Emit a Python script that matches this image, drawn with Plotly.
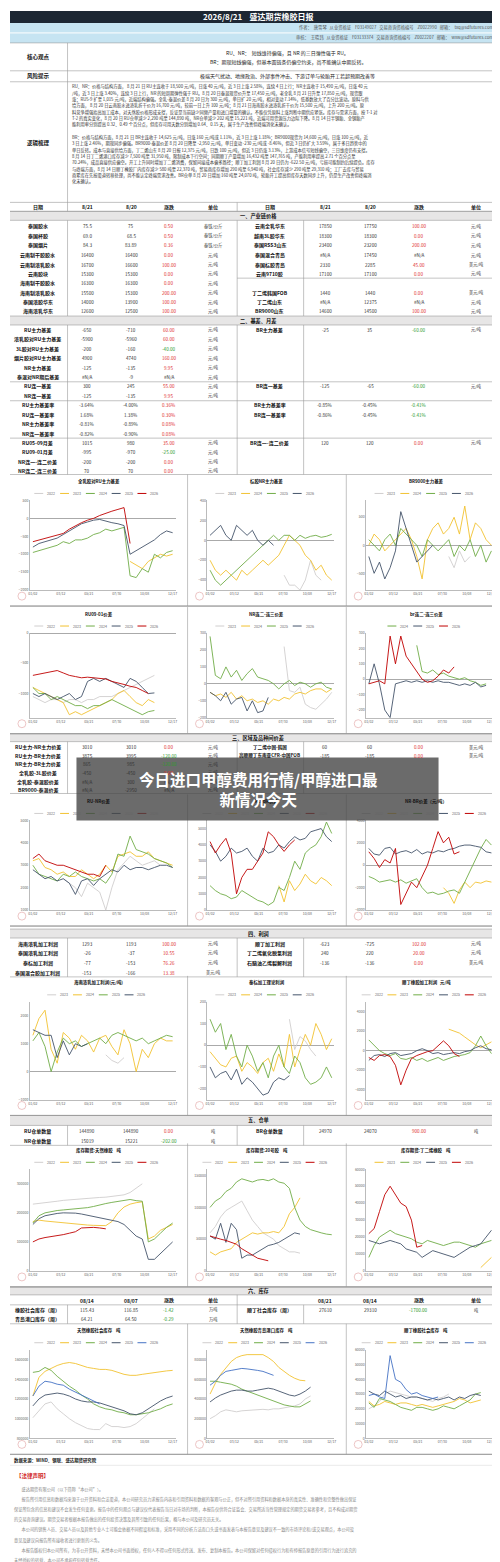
import plotly.graph_objects as go

W, H = 500, 1562
FONT = "Noto Sans CJK SC"

# ---------------- data ----------------
N = 24
def pad(a, n=N):
    return list(a) + [None] * (n - len(a))

C_2022, C_2023, C_2024, C_2025, C_2026, C_BLUE = "#d0cece", "#f2c230", "#70ad47", "#44546a", "#c00000", "#4472c4"

header_left = ["日期", "8/21", "8/20", "涨跌", "单位"]
header_right = ["日期", "8/21", "8/20", "涨跌", "单位"]

sec1_left = [
    ("泰国胶水", "75.5", "75", "0.50", "泰铢/公斤"),
    ("泰国杯胶", "69.0", "68.5", "0.50", "泰铢/公斤"),
    ("泰国烟片", "84.3", "83.89", "0.36", "泰铢/公斤"),
    ("云南制干胶胶水", "16400", "16400", "0.00", "元/吨"),
    ("云南制浓乳胶水", "16700", "16600", "100.00", "元/吨"),
    ("云南胶块", "15300", "15300", "0.00", "元/吨"),
    ("海南制干胶胶水", "16300", "16300", "0.00", "元/吨"),
    ("海南制浓乳胶水", "15500", "15300", "200.00", "元/吨"),
    ("泰国浓胶华东", "14000", "13900", "100.00", "元/吨"),
    ("海南浓乳华东", "12600", "12500", "100.00", "元/吨"),
]
sec1_right = [
    ("云南全乳华东", "17850", "17750", "100.00", "元/吨"),
    ("越南3L胶华东", "18300", "18300", "0.00", "元/吨"),
    ("泰国RSS3山东", "23400", "23200", "200.00", "元/吨"),
    ("泰国混合青岛", "#N/A", "17450", "#N/A", "元/吨"),
    ("泰国标胶青岛", "2330", "2285", "45.00", "美元/吨"),
    ("云南9710胶", "17100", "17100", "0.00", "元/吨"),
    None,
    ("丁二烯韩国FOB", "1440", "1440", "0.00", "美元/吨"),
    ("丁二烯山东", "#N/A", "12375", "#N/A", "元/吨"),
    ("BR9000山东", "14600", "14500", "100.00", "元/吨"),
]
sec2_left = [
    ("RU主力基差", "-650", "-710", "60.00", "元/吨"),
    ("浓乳胶对RU主力基差", "-5900", "-5960", "60.00", "元/吨"),
    ("3L胶对RU主力基差", "-200", "-160", "-40.00", "元/吨"),
    ("烟片胶对RU主力基差", "4900", "4740", "160.00", "元/吨"),
    ("NR主力基差", "-125", "-135", "9.95", "元/吨"),
    ("泰混对NR期后基差", "#N/A", "-9", "#N/A", "元/吨"),
    ("RU连一基差", "300", "245", "55.00", "元/吨"),
    ("NR连一基差", "-125", "-135", "9.95", "元/吨"),
    ("RU主力基差率", "-3.64%", "-4.00%", "0.36%", ""),
    ("RU连一基差率", "1.68%", "1.38%", "0.30%", ""),
    ("NR主力基差率", "-0.81%", "-0.89%", "0.08%", ""),
    ("NR连一基差率", "-0.82%", "-0.90%", "0.08%", ""),
    ("RU05-09月差", "1015", "980", "35.00", "元/吨"),
    ("RU09-01月差", "-995", "-970", "-25.00", "元/吨"),
    ("NR连一-连二价差", "-200", "-200", "0.00", "元/吨"),
    ("NR连二-连三价差", "70", "70", "0.00", "元/吨"),
]
sec2_right = {
    0: ("BR主力基差", "-25", "35", "-60.00", "元/吨"),
    6: ("BR连一基差", "-125", "-65", "-60.00", "元/吨"),
    8: ("BR主力基差率", "-0.85%", "-0.45%", "-0.41%", ""),
    9: ("BR连一基差率", "-0.86%", "-0.45%", "-0.41%", ""),
    12: ("BR连一-连二价差", "120", "120", "0.00", "元/吨"),
}
sec3_left = [
    ("RU主力-NR主力价差", "3010", "3010", "0.00", "元/吨"),
    ("RU主力-BR主力价差", "3875", "3995", "-120.00", "元/吨"),
    ("NR主力-BR主力价差", "865", "985", "-120.00", "元/吨"),
    ("全乳胶-3L胶价差", "-450", "-450", "0.00", "元/吨"),
    ("全乳胶-泰混胶价差", "#N/A", "300", "#N/A", "元/吨"),
    ("BR9000-泰混价差", "#N/A", "-2950", "#N/A", "元/吨"),
]
sec3_right = [
    ("丁二烯中国-韩国", "60", "60", "0.00", "美元/吨"),
    ("高顺顺丁东南亚CFR-中国FOB", "-185", "-185", "0.00", "美元/吨"),
]
sec4_left = [
    ("海南浓乳加工利润", "1293", "1193", "100.00", "元/吨"),
    ("泰国浓乳加工利润", "-26", "-37", "10.55", "元/吨"),
    ("泰标加工利润", "-77", "-153", "76.26", "元/吨"),
    ("泰国混合胶加工利润", "-153", "-166", "13.38", "美元/吨"),
]
sec4_right = [
    ("顺丁加工利润", "-623", "-725", "102.00", "元/吨"),
    ("丁二烯氧化脱氢利润", "240", "220", "20.00", "元/吨"),
    ("石脑油乙烯裂解利润", "-136", "-136", "0.00", "美元/吨"),
]
sec5_left = [
    ("RU仓单数量", "144890", "144890", "0.00", "吨"),
    ("NR仓单数量", "15019", "15221", "-202.00", "吨"),
]
sec5_right = [("BR仓单数量", "24970", "24070", "900.00", "吨")]
sec6_head_left = ["", "08/14", "08/07", "涨跌", "单位"]
sec6_head_right = ["", "08/21", "08/14", "涨跌", "单位"]
sec6_left = [
    ("橡胶社会库存（周）", "115.43", "116.85", "-1.42", "万吨"),
    ("青岛港口库存（周）", "64.21", "64.50", "-0.29", "万吨"),
]
sec6_right = [("顺丁社会库存（周）", "27610", "29310", "-1700.00", "吨")]

# chart series
c1_2026 = pad([-650, -600, -560, -520, -450, -420, -300, -200, -120, -50, 0, 80, 150, 200, 250, 300, -700])
c1_2025 = [-800, -700, -650, -600, -550, -450, -350, -250, -150, -100, -50, -30, -80, -120, -150, -200, -1000, -900, -800, -700, -600, -450, -350, -400]
c1_2024 = [-950, -900, -850, -800, -750, -650, -700, -600, -600, -550, -450, -400, -300, -350, -300, -250, -1600, -1650, -1400, -1500, -1000, -1100, -950, -900]
c1_2023 = [None] * 16 + [-1200, -1300, -1400, -1200, -1100, -1000, -1050, -1000]

c2_2026 = pad([50, 100, 150, 50, 0, 150, 100, 50, 100, 0, -50, 0, -50])
c2_2025 = [-300, -400, -450, -400, -350, -300, -250, -200, -150, -100, -50, 0, 50, 0, 50, 50, 0, 50, 20, 40, 50, 30, 40, 60]
c2_2024 = [-200, -300, -350, -300, -350, -400, -300, -350, -300, -250, -200, -250, -200, -150, -50, 50, 0, -50, -150, -200, -300, -250, -350, -400]
c2_2023 = pad([None] * 14 + [-350, -450, -450, -500, -400, -200, -350, -400])

c3_2026 = pad([-200, -500, -300, -600, -400, -100, 600, 300, 0, -300, -200, -100, 0])
c3_2025 = [100, 0, -100, 100, 200, 0, 300, 200, 100, 0, -200, 100, 0, -100, 0, 100, -200, 0, -100, 100, -200, 0, -300, -100]
c3_2024 = [0, 200, 100, -100, 0, 100, 200, 300, 100, -200, -600, 100, 300, 400, 200, 300, 500, 200, 700, 100, 400, 300, 100, 0]
c3_2023 = pad([None] * 15 + [-200, -400, -100, -300, -200])

c4_2026 = pad([-700, -680, -650, -640, -620, -660, -700, -720, -740, -730, -740, -750, -760, -800, -820, -850, -880, -900, -950, -1000])
c4_2025 = pad([-1000, -1050, -1000, -1050, -1100, -1050, -1000, -1100, -1050, -800, -750, -800, -750, -800, -850, -900, -750, -800, -900, -1000, -990])
c4_2024 = pad([-900, -1000, -1000, -1100, -1050, -1100, -1150, -1200, -1200, -1250, -1200, -1200, -1150, -1100, -1150, -1200, -1250, -1300, -1350, -1300, -1280])
c4_2023 = pad([-900, -950, -1000, -1050, -1100, -1150, -1350, -1300, -1350, -1300, -1250, -1200, -1150, -1100, -1000, -950, -1050, -1150, -1200, -1100, -1150])
c4_2022 = pad([-1050, -1100, -1150, -1100, -1100, -1150, -1100, -1100, -1150, -1100, -1100, -1050, -1050, -1050, -1000, -950, -900, -850, -800, -750, -700])

c5_2026 = pad([-50, -70, -100, -50, -120, -90, -80, -160, -100, -170, -160, -80])
c5_2025 = [280, 50, 30, 100, 40, 80, 20, 60, 90, 40, 30, 20, 0, -30, 0, 20, -10, 10, 0, -20, 0, 10, -20, -30]
c5_2024 = [-50, -70, -60, -80, -50, -90, -70, -100, -90, -110, -100, -120, -90, -100, -80, -90, -60, -50, -60, -40, -30, -30, -50, -30]
c5_2023 = [None] * 14 + [220, -40, -50, -20, -120, -140, -150, -120, -90, -50]

c6_2026 = pad([-30, -20, -10, -30, 280, 100, 280, 150, 100, 50, 0, -20, -10, 20, 60, 40, 80])
c6_2025 = pad([-30, 100, -30, -200, -250, -30, -20, -10, -20, -10, -20, -10, -20, -10, -20, -20, -30, -40, -30, -40, -20, -50, -40])
c6_2024 = pad([None] * 9 + [220, 50, 40, 60, 30, 40, 20, 10, 0, 10, -10, -20, -40, -30])

c7_2026 = pad([3300, 3500, 3200, 3100, 3000, 3000, 2900, 2800, 2700, 2600, 2600, 2500, 3000])
c7_2025 = [2800, 2600, 2400, 2500, 2300, 2400, 2200, 1700, 2300, 2400, 2100, 2400, 2600, 2800, 2700, 3000, 2800, 2900, 2900, 2800, 2900, 3000, 3000, 2900]
c7_2024 = [3000, 2600, 2500, 2400, 2300, 2600, 2500, 2700, 2500, 2400, 2300, 2400, 2200, 2600, 3500, 3400, 4300, 3700, 3600, 3500, 3300, 3200, 3100, 2900]
c7_2023 = [3200, 3300, 2900, 2800, 2600, 2700, 2500, 2500, 2800, 2600, 2400, 2600, 3000, 2700, 3400, 3500, 3600, 3400, 3400, 3600, 3300, 3200, 3100, 3000]
c7_2022 = pad([None] * 5 + [2400, 2200, 2000, 1600, 2200, 2000, 1800, 1000, 2000, 2800, 3100, 3400, 3200, 3000, 3100, 3200, 3000])

c8_2026 = pad([4200, 3500, 4000, 4400, 3500, 1000, 2000, 2500, 2500, 3000, 3500, 4800, 4500, 4000, 3600, 4000, 4300])
c8_2025 = [4000, 3600, 3000, 3300, 3800, 3500, 3600, 3800, 3300, 3000, 3800, 3500, 3600, 4000, 3800, 4200, 4500, 4300, 4400, 4800, 4900, 5000, 4500, 4200]
c8_2024 = [1500, 1200, 1000, 900, 700, 800, 1200, 1000, 800, 600, 500, 300, 500, 1400, 1200, 2000, 3000, 2500, 3500, 3800, 4000, 4500, 5400, 4700]
c8_2023 = [None] * 13 + [1500, 500, 1800, 1200, 1600, 2200, 1800, 1600, 2000, 1800, 1500]

c9_2026 = pad([1200, 600, -200, 500, 200, 1500, -3500, -2500, -1500, -2000, -1000, 0, 1500, 3000, 2000, 2500, 1000, 1200])
c9_2025 = [1500, 1000, 900, 1500, 1600, 1000, 1200, 1300, 1100, 1400, 1000, 1200, 1100, 1300, 1200, 1400, 1500, 1700, 1800, 1800, 1700, 1600, 1200, 1100]
c9_2024 = [-1000, -1200, -1500, -1400, -1300, -1500, -1300, -1600, -1400, -1200, -2000, -2500, -2400, -2600, -2500, -2300, -2200, -2500, -1500, -500, 500, 1500, 2300, 1800]
c9_2023 = [None] * 14 + [-2000, -2500, -3400, -2200, -1500, -2000, -1500, -1600, -1400, -1500]

c10_2026 = pad([1500, 1400, 1300, 1300, 500, 1100, 600, 1000, 900, 1000])
c10_2025 = [1100, 1400, 900, 0, 700, 1200, 1000, 1100, 900, 1000, 1100, 1200, 1000, 1300, 1400, 1300, 1200, 1100, 1200, 1000, 1100, 1200, 1300, 1250]
c10_2024 = [1300, 1900, 2200, 800, 300, 1400, 1200, 800, 1300, 1100, 700, 1200, 1300, 900, 600, 1500, 1000, 0, 800, 500, 1000, 1200, 1100, 1100]
c10_2023 = pad([None] * 12 + [600, 400, 300, 500])

c11_2026 = pad([-100, -150, -130, -120, -160, -110, -180, -150, -170, -200, -230, -220, -170, -150, -160, -140])
c11_2025 = [120, 60, 100, -20, 50, -50, -100, 0, -50, -120, -80, -150, -50, 0, -100, -130, -50, -80, -150, -180, -170, -150, -100, -150]
c11_2024 = [-30, -60, -90, -100, -60, -50, -120, -80, -100, -130, -80, -60, -120, -40, -100, 50, -100, -20, 50, 0, 100, 50, -20, 30]
c11_2023 = pad([None] * 15 + [120, -20, 40, 20, -20, -50])

c12_2026 = pad([-700, -1000, -500, -400, -600, -1500, -3500, -2000, -800, -500, -300, -100, 0, 500, 1000, 500, -300, -600])
c12_2025 = [-1000, -500, -400, -600, -300, -200, -500, -400, -300, 0, 200, 0, -300, -200, -400, -300, -200, -300, -100, 0, 300, 500, 200, 100]
c12_2024 = [1100, 500, 0, -300, -500, -300, -800, -900, -700, -1000, -800, -1100, -900, -700, -1000, -800, -600, -500, -400, -200, 500, 1500, 500, -300]
c12_2023 = [None] * 15 + [2200, 2000, 1800, 1400, 1000, 600, 300, 600, 900]

c13_2022 = pad([230000, 232000, 235000, 238000, 240000, 243000, 245000, 247000, 249000, 250000, 252000, 253000, 254000, 256000, 258000, 262000, 270000, 285000, 300000])
c13_2023 = [170000, 175000, 172000, 170000, 168000, 165000, 163000, 160000, 158000, 158000, 157000, 157000, 156000, 170000, 200000, 220000, 230000, 235000, 238000, 110000, 120000, 140000, 150000, 160000]
c13_2024 = [165000, 190000, 200000, 205000, 208000, 210000, 212000, 214000, 215000, 218000, 222000, 228000, 232000, 236000, 240000, 244000, 246000, 242000, 240000, 100000, 110000, 130000, 150000, 165000]
c13_2025 = [160000, 180000, 190000, 195000, 198000, 200000, 200000, 199000, 196000, 192000, 188000, 184000, 180000, 176000, 170000, 160000, 140000, 120000, 110000, 40000, 40000, 60000, 80000, 100000]
c13_2026 = pad([100000, 110000, 115000, 118000, 120000, 125000, 130000, 135000, 148000, 150000, 150000, 148000, 145000])

c14_2022 = pad([60000, 70000, 85000, 95000, 100000, 105000, 110000, 95000, 80000, 70000, 60000, 55000, 50000, 40000, 35000, 30000, 30000, 28000])
c14_2023 = pad([30000, 25000, 30000, 32000, 35000, 45000, 50000, 55000, 60000, 58000, 60000, 60000, 62000, 60000, 70000, 90000, 100000, 115000])
c14_2024 = [100000, 110000, 115000, 125000, 130000, 140000, 145000, 142000, 140000, 143000, 144000, 142000, 145000, 140000, 138000, 130000, 100000, 80000, 70000, 65000, 62000, 60000, 58000, 57000]
c14_2025 = pad([55000, 50000, 75000, 45000, 75000, 65000, 20000, 25000, 25000, 30000, 35000, 40000, 42000, 45000, 50000, 55000, 60000, 58000])
c14_2026 = pad([55000, 52000, 50000, 48000, 45000, 42000, 35000, 30000, 25000, 20000, 18000, 16000])

c15_2026 = pad([22000, 25000, 35000, 45000, 50000, 45000, 40000, 38000, 30000, 14000, 15000])
c15_2024 = [8000, 15000, 20000, 22000, 24000, 22000, 21000, 20000, 19000, 17000, 16000, 18000, 17000, 16000, 15000, 16000, 17000, 17000, 16000, 15000, 14000, 16000, 17000, 18000]
c15_2025 = [18000, 17000, 16000, 17000, 18000, 17000, 16000, 13000, 12000, 11000, 8000, 10000, 12000, 11000, 10000, 9000, 8000, 10000, 12000, 14000, 15000, 16000, 20000, 24000]
c15_2023 = [None] * 21 + [2000, 5000, 8000]

c16_2022 = pad([1010000, 1080000, 1150000, 1170000, 1100000, 1050000, 1000000, 960000, 930000, 900000, 890000, 890000, 950000, 920000, 920000, 910000, 920000, 950000, 1000000, 1050000, 1100000])
c16_2023 = [1230000, 1420000, 1480000, 1510000, 1540000, 1560000, 1570000, 1560000, 1540000, 1520000, 1510000, 1500000, 1500000, 1490000, 1470000, 1450000, 1440000, 1440000, 1450000, 1460000, 1470000, 1480000, 1485000, 1490000]
c16_2024 = [1470000, 1480000, 1520000, 1490000, 1430000, 1380000, 1330000, 1290000, 1240000, 1200000, 1150000, 1120000, 1100000, 1090000, 1070000, 1060000, 1040000, 1040000, 1050000, 1060000, 1080000, 1100000, 1130000, 1150000]
c16_2025 = [1130000, 1200000, 1240000, 1250000, 1260000, 1250000, 1230000, 1200000, 1180000, 1170000, 1170000, 1160000, 1140000, 1120000, 1100000, 1080000, 1050000, 1040000, 1060000, 1100000, 1140000, 1180000, 1210000, 1230000]
c16_2026 = pad([1230000, 1330000, 1380000, 1370000, 1350000, 1340000, 1300000, 1270000, 1240000, 1210000, 1180000, 1150000])

c17_2022 = pad([200000, 230000, 270000, 290000, 280000, 270000, 280000, 285000, 290000, 290000, 295000, 290000, 300000, 300000, 310000, 320000, 330000, 350000, 400000, 430000])
c17_2023 = pad([450000, 560000, 650000, 720000, 780000, 820000, 840000, 850000, 850000, 845000, 850000, 820000, 780000, 720000, 680000, 640000, 610000, 590000, 585000])
c17_2024 = pad([580000, 580000, 570000, 560000, 550000, 530000, 500000, 480000, 460000, 440000, 420000, 400000, 380000, 360000, 340000, 330000, 320000, 320000, 350000, 380000])
c17_2025 = pad([370000, 410000, 440000, 460000, 480000, 490000, 490000, 480000, 480000, 490000, 500000, 510000, 500000, 480000, 460000, 440000, 430000, 450000, 480000, 520000])
c17_2026 = pad([540000, 580000, 640000, 680000, 690000, 700000, 710000, 705000, 700000, 690000, 680000, 660000, 640000])

c18_2022 = pad([20000, 22000, 25000, 30000, 32000, 31000, 30000, 29000, 28000, 28000, 27000, 26000, 25000, 27000, 28000, 30000])
c18_2023 = pad([25000, 22000, 23000, 25000, 24000, 23000, 24000, 24000, 23000, 22000, 23000, 22000, 21000, 22000, 23000, 24000, 25000, 27000, 26000, 24000, 25000, 26000])
c18_2024 = pad([24000, 21000, 27000, 26000, 25000, 23000, 21000, 20000, 19000, 21000, 21000, 20000, 19000, 20000, 22000, 21000, 20000, 22000, 24000, 26000, 30000, 31000])
c18_2025 = pad([32000, 30000, 29000, 32000, 30000, 28000, 29000, 27000, 28000, 28000, 27000, 26000, 27000, 26000, 27000, 28000, 26000, 28000, 27000, 29000, 30000, 29000])
c18_2026 = pad([29000, 30000, 28000, 27000, 56000, 40000, 38000, 33000, 30000, 31000, 29000, 28000, 27000, 28000])

date_ticks = ["01/02", "03/12", "05/21", "07/30", "10/08", "12/17"]

charts = [
    ("全乳胶对RU主力基差", [-2000, 500], [("2022", C_2022, None), ("2023", C_2023, c1_2023), ("2024", C_2024, c1_2024), ("2025", C_2025, c1_2025), ("2026", C_2026, c1_2026)]),
    ("标胶NR主力基差", [-500, 400], [("2023", C_2022, c2_2023), ("2024", C_2023, c2_2024), ("2025", C_2024, c2_2025), ("2026", C_2025, c2_2026)]),
    ("BR9000主力基差", [-800, 800], [("2023", C_2022, c3_2023), ("2024", C_2023, c3_2024), ("2025", C_2024, c3_2025), ("2026", C_2025, c3_2026)]),
    ("RU09-01价差", [-1400, 0], [("2022", C_2022, c4_2022), ("2023", C_2023, c4_2023), ("2024", C_2024, c4_2024), ("2025", C_2025, c4_2025), ("2026", C_2026, c4_2026)]),
    ("NR连二-连三价差", [-200, 300], [("2023", C_2022, c5_2023), ("2024", C_2023, c5_2024), ("2025", C_2024, c5_2025), ("2026", C_2025, c5_2026)]),
    ("br连二-连三价差", [-250, 300], [("2024", C_2024, c6_2024), ("2025", C_2025, c6_2025), ("2026", C_2026, c6_2026)]),
    ("RU-NR价差", [1000, 5000], [("2022", C_2022, c7_2022), ("2023", C_2023, c7_2023), ("2024", C_2024, c7_2024), ("2025", C_2025, c7_2025), ("2026", C_2026, c7_2026)]),
    ("RU-BR价差", [0, 5500], [("2022", C_2022, None), ("2023", C_2023, c8_2023), ("2024", C_2024, c8_2024), ("2025", C_2025, c8_2025), ("2026", C_2026, c8_2026)]),
    ("NR-BR价差（元/吨）", [-4000, 4000], [("2022", C_2022, None), ("2023", C_2023, c9_2023), ("2024", C_2024, c9_2024), ("2025", C_2025, c9_2025), ("2026", C_2026, c9_2026)]),
    ("海南浓乳加工利润(元/吨)", [-1000, 2500], [("2023", C_2022, c10_2023), ("2024", C_2023, c10_2024), ("2025", C_2024, c10_2025), ("2026", C_2025, c10_2026)]),
    ("泰标加工理论利润", [-250, 200], [("2023", C_2022, c11_2023), ("2024", C_2023, c11_2024), ("2025", C_2024, c11_2025), ("2026", C_2025, c11_2026)]),
    ("顺丁橡胶加工利润   元/吨", [-5000, 5000], [("2022", C_2022, None), ("2023", C_2023, c12_2023), ("2024", C_2024, c12_2024), ("2025", C_2025, c12_2025), ("2026", C_2026, c12_2026)]),
    ("库存期货:天然橡胶    吨", [0, 350000], [("2022", C_2022, c13_2022), ("2023", C_2023, c13_2023), ("2024", C_2024, c13_2024), ("2025", C_2025, c13_2025), ("2026", C_2026, c13_2026)]),
    ("库存期货:20号胶    吨", [0, 160000], [("2022", C_2022, c14_2022), ("2023", C_2023, c14_2023), ("2024", C_2024, c14_2024), ("2025", C_2025, c14_2025), ("2026", C_2026, c14_2026)]),
    ("库存期货:丁二烯橡胶    吨", [0, 60000], [("2023", C_2023, c15_2023), ("2024", C_2024, c15_2024), ("2025", C_2025, c15_2025), ("2026", C_2026, c15_2026)]),
    ("天然橡胶社会库存    吨", [800000, 1700000], [("2022", C_2022, c16_2022), ("2023", C_2023, c16_2023), ("2024", C_2024, c16_2024), ("2025", C_2025, c16_2025), ("2026", C_BLUE, c16_2026)]),
    ("天然橡胶青岛港口库存    吨", [0, 900000], [("2022", C_2022, c17_2022), ("2023", C_2023, c17_2023), ("2024", C_2024, c17_2024), ("2025", C_2025, c17_2025), ("2026", C_BLUE, c17_2026)]),
    ("顺丁橡胶社会库存    吨", [0, 60000], [("2022", C_2022, c18_2022), ("2023", C_2023, c18_2023), ("2024", C_2024, c18_2024), ("2025", C_2025, c18_2025), ("2026", C_BLUE, c18_2026)]),
]
chart_rows = [(465, 597), (598, 725), (786, 918), (968, 1108), (1136, 1280), (1317, 1448)]
chart_cols = [(0, 179), (179, 339), (339, 500)]

logic_ru = [
    "RU、NR：价格与结构方面， 8 月 21 日 RU主连收于 18,500 元/吨，日涨 40 元/吨，近 3 日上涨 2.58%，连续 4 日上行；NR主连收于 15,490 元/吨，日涨 40 元",
    "/吨，近 3 日上涨 3.40%，连续 3 日上行，NR 的短周期弹性强于 RU。8 月 20 日泰混现货价升至 17,450 元/吨，老全乳 8 月 21 日升至 17,850 元/吨，现货跟",
    "涨；RU5-9 扩至 1,015 元/吨，近端结构偏强。全乳-泰混价差 8 月 20 日为 300 元/吨，单日扩 20 元/吨，相对变动 7.14%，低基数放大了百分比波动。原料与供",
    "给方面， 8 月 20 日云南胶水进浓乳折干价为 16,700 元/吨，较前一日上升 100 元/吨；8 月 21 日海南胶水进浓乳折干价为 15,500 元/吨，上升 200 元/吨。原",
    "料竞争增强抬高加工成本，对天然胶价格形成支撑，反证是当前缺少同频产量和进口增量的确认。不能仅凭原料上涨判断中期供应紧张。库存与需求方面，按 T-1 对",
    "T-2 的真实变化，8 月 20 日 RU仓单减少 2,290 吨至 144,890 吨，NR仓单减少 202 吨至 15,221 吨，近端可用货源压力边际下降。8 月 14 日半钢胎、全钢胎产",
    "能利用率分别提高 0.32、0.49 个百分点，但库存可用天数分别增加 0.64、0.15 天，属于生产改善但终端消化未确认。",
]
logic_br = [
    "BR：价格与结构方面，8 月 21 日 BR主连收于 14,625 元/吨，日涨 160 元/吨或 1.11%，近 3 日上涨 1.18%；BR9000现货为 14,600 元/吨，日涨 100 元/吨，近",
    "3 日上涨 2.46%，期现同步偏强。BR9000-泰混价差 8 月 20 日降至 -2,950 元/吨，单日变动 -230 元/吨或 -8.46%，但近 3 日仍扩大 3.59%，属于多日趋势中的",
    "单日反转。成本与直接供给方面，丁二烯山东 8 月 20 日报 12,375 元/吨，日跌 100 元/吨，但近 3 日仍涨 3.13%，上游成本信号短线偏空，三日维度仍有支撑。",
    "8 月 14 日丁二烯港口库存减少 7,500 吨至 31,950 吨，限制成本下行空间；同期顺丁产量增加 16,432 吨至 147,765 吨，产能利用率提高 2.71 个百分点至",
    "70.24%，成品直接供应偏空。开工上升同时增加丁二烯消费，保留间接成本偏多路径；顺丁加工利润 8 月 20 日仍为 -622.50 元/吨，亏损可能制约后续提负。库存",
    "与终端方面，8 月 14 日顺丁橡胶厂内库存减少 580 吨至 22,370 吨，贸易商库存增加 290 吨至 6,940 吨，社会库存减少 290 吨至 29,310 吨；工厂去库与贸易",
    "商累库在先按渠道转移处理，尚不能认定终端需求改善。BR仓单 8 月 20 日增加 160 吨至 24,070 吨，轮胎开工提高但库存天数同步上升，仍是生产改善但终端消",
    "化未确认。",
]
legal_lines = [
    "        盛达期货有限公司（以下简称“本公司”）。",
    "        报告所引用信息和数据均来源于公开资料和合法渠道，本公司研究员力求报告内容和引用资料和数据的客观与公正，但不对所引用资料和数据本身的真实性、准确性和完整性做出保证",
    "保证所包含的信息和建议不会发生任何变更。报告中的任何观点与建议仅代表报告当日对市场的判断，本报告仅供符合证监会、交易所适当性管理规定的期货交易者参考，且不构成对期货",
    "的交易咨询建议。期货交易者根据本报告做出的任何投资决策及其所引致的任何后果，概与本公司及研究员无关。",
    "        本公司的销售人员、交易人员以及其他专业人士可能会依据不同假设和标准，采用不同的分析方法而口头或书面发表与本报告意见及建议不一致的市场评论和/或交易观点，本公司没",
    "意见及建议向报告所有接收者进行更新的义务。",
    "        本报告版权归本公司所有，为非公开资料，未经本公司书面授权，任何人不得以任何形式传送、发布、复制本报告。本公司保留对任何侵权行为和有悖报告原意的引用行为进行追究的",
    "未经授权的转载，本公司不承担任何转载责任。",
]

# ---------------- helpers ----------------
def X(px): return px / W
def Y(py): return 1 - py / H

ann, shapes = [], []

def txt(x, y, s, size=5, color="#222", anchor="center", bold=False, family=FONT):
    if bold:
        s = "<b>" + s + "</b>"
    ann.append(dict(x=X(x), y=Y(y), xref="paper", yref="paper", text=s, showarrow=False,
                    xanchor=anchor, yanchor="middle", font=dict(size=size, color=color, family=family)))

def rect(x0, y0, x1, y1, fill, line=None, opacity=1.0):
    shapes.append(dict(type="rect", xref="paper", yref="paper", x0=X(x0), x1=X(x1), y0=Y(y1), y1=Y(y0),
                       fillcolor=fill, opacity=opacity, line=dict(width=0.6 if line else 0, color=line or fill), layer="below"))

def hline(y, x0=0, x1=W, color="#9a9a9a", w=0.6):
    shapes.append(dict(type="line", xref="paper", yref="paper", x0=X(x0), x1=X(x1), y0=Y(y), y1=Y(y), line=dict(color=color, width=w)))

def vline(x, y0, y1, color="#9a9a9a", w=0.6):
    shapes.append(dict(type="line", xref="paper", yref="paper", x0=X(x), x1=X(x), y0=Y(y0), y1=Y(y1), line=dict(color=color, width=w)))

LX = [28, 78, 122, 160, 205]
RX = [262, 318, 363, 412, 470]

def dcolor(d):
    if d.startswith("#"):
        return "#333"
    return "#2e9a2e" if d.startswith("-") else "#e03030"

def row(y, cells, xs, label_size=5):
    if cells is None:
        return
    name, a, b, d, u = cells
    txt(xs[0], y, name, label_size, "#111", bold=True)
    txt(xs[1], y, a, 4.6, "#333")
    txt(xs[2], y, b, 4.6, "#333")
    txt(xs[3], y, d, 4.6, dcolor(d))
    txt(xs[4], y, u, 4.2, "#333")

def section(y0, y1, title):
    rect(0, y0, W, y1, "#e7e6e6")
    hline(y0); hline(y1)
    txt(250, (y0 + y1) / 2, title, 5.2, "#111", bold=True)

# ---------------- header ----------------
rect(0, 0, W, 12, "#1d2733")
txt(250, 6, "2026/8/21    盛达期货橡胶日报", 8, "white", bold=True)
rect(0, 12, W, 22, "#c6e4f2"); rect(0, 22, W, 32, "#c6e4f2")
hline(22, color="#ffffff", w=1)
txt(496, 17, "作者：  唐雪琴   从业资格证    F03149027   交易咨询资格编号    Z0022990   邮箱：  txq@sdfutures.com.cn", 4.3, "#555", anchor="right")
txt(496, 27, "审核：  王晓玮   从业资格证    F03133374   交易咨询资格编号    Z0022207   邮箱：  wxw@sdfutures.com.cn", 4.3, "#555", anchor="right")

hline(32); hline(60); hline(71); hline(192); hline(201)
vline(58, 32, 201)
txt(29, 46, "核心观点", 5.5, "#111", bold=True)
txt(280, 42, "RU、NR：  短线维持偏强，且 NR 的三日弹性强于 RU。", 5, "#222")
txt(280, 51, "BR：期现短线偏强，但基本面链条仍偏空约束，尚不能确认中期反转。", 5, "#222")
txt(29, 65.5, "风险提示", 5.5, "#111", bold=True)
txt(280, 65.5, "极端天气扰动、地缘政治、外部事件冲击、下游订单与轮胎开工若超预期改善等", 5, "#222")
txt(29, 132, "逻辑梳理", 5.5, "#111", bold=True)
for i, s in enumerate(logic_ru):
    txt(60, 76 + i * 6.35, s, 4.25, "#333", anchor="left")
for i, s in enumerate(logic_br):
    txt(60, 76 + (len(logic_ru) + 1 + i) * 6.35, s, 4.25, "#333", anchor="left")

# column header
for x, s in zip(LX, header_left):
    txt(x, 196.5, s, 5, "#111", bold=True)
for x, s in zip(RX, header_right):
    txt(x, 196.5, s, 5, "#111", bold=True)
vline(229, 192, 201)

# section 1
section(201, 210, "一、产业链价格")
ys1 = [216, 225.4, 234.8, 245, 254.4, 263.8, 273.2, 282.6, 292, 301.4]
for y, c in zip(ys1, sec1_left):
    row(y, c, LX)
for y, c in zip(ys1, sec1_right):
    row(y, c, RX)
hline(268, 229, W)
vline(58, 210, 306); vline(229, 210, 306); vline(296, 210, 306)

# section 2
section(306, 315, "二、基差、月差")
ys2 = [320, 329.5, 339, 348.5, 358, 367.5, 376.5, 386, 395.5, 405, 414.5, 424, 433, 442.5, 452, 461]
for y, c in zip(ys2, sec2_left):
    row(y, c, LX)
for i, c in sec2_right.items():
    row(ys2[i], c, RX)
for y in (372, 391, 428.5):
    hline(y)
vline(58, 315, 465); vline(229, 315, 465); vline(296, 315, 465)
hline(465)

# section 3
section(725, 733, "三、区域及品种间价差")
ys3 = [738.5, 747, 755.5, 764, 773, 781]
for y, c in zip(ys3, sec3_left):
    row(y, c, LX)
for y, c in zip(ys3, sec3_right):
    row(y, c, RX, label_size=4.6)
vline(58, 733, 785); vline(229, 733, 785); vline(296, 733, 785)
hline(785)

# section 4
section(921, 930, "四、利润")
ys4 = [935.5, 945, 955, 965]
for y, c in zip(ys4, sec4_left):
    row(y, c, LX)
for y, c in zip(ys4, sec4_right):
    row(y, c, RX)
vline(58, 930, 969); vline(229, 930, 969); vline(296, 930, 969)
hline(969)

# section 5
section(1108, 1118, "五、仓单")
ys5 = [1124, 1133.5]
for y, c in zip(ys5, sec5_left):
    row(y, c, LX)
for y, c in zip(ys5, sec5_right):
    row(y, c, RX)
vline(58, 1118, 1138); vline(229, 1118, 1138); vline(296, 1118, 1138)
hline(1138)

# section 6
section(1280, 1288, "六、库存")
for x, s in zip(LX, sec6_head_left):
    txt(x, 1293.5, s, 5, "#111", bold=True)
for x, s in zip(RX, sec6_head_right):
    txt(x, 1293.5, s, 5, "#111", bold=True)
hline(1298)
ys6 = [1303, 1312.5]
for y, c in zip(ys6, sec6_left):
    row(y, c, LX)
for y, c in zip(ys6, sec6_right):
    row(y, c, RX)
vline(58, 1298, 1317); vline(229, 1288, 1317); vline(296, 1298, 1317)
hline(1317)

# ---------------- charts ----------------
data = []
layout_axes = {}
for k, (title, yr, series) in enumerate(charts):
    r, c = divmod(k, 3)
    ry0, ry1 = chart_rows[r]
    cx0, cx1 = chart_cols[c]
    if c > 0:
        vline(cx0, ry0, ry1)
    hline(ry1)
    txt((cx0 + cx1) / 2, ry0 + 7, title, 4.4, "#111", bold=True)
    # legend
    n = len(series)
    lw = 26
    lx0 = (cx0 + cx1) / 2 - n * lw / 2
    for j, (nm, col, _) in enumerate(series):
        xx = lx0 + j * lw
        shapes.append(dict(type="line", xref="paper", yref="paper", x0=X(xx), x1=X(xx + 9), y0=Y(ry0 + 19), y1=Y(ry0 + 19),
                           line=dict(color=col, width=1)))
        txt(xx + 11, ry0 + 19, nm, 3.6, "#666", anchor="left")
    px0, px1 = cx0 + 20, cx1 - 12
    py0, py1 = ry0 + 26, ry1 - 16
    ax = "" if k == 0 else str(k + 1)
    layout_axes["xaxis" + ax] = dict(domain=[X(px0), X(px1)], anchor="y" + ax, range=[-0.5, N - 0.5],
                                     tickvals=[0, 4.6, 9.2, 13.8, 18.4, 23], ticktext=date_ticks,
                                     tickfont=dict(size=3.5, color="#666", family=FONT), ticks="",
                                     showgrid=False, zeroline=False, showline=True, linecolor="#bbb", linewidth=0.6)
    layout_axes["yaxis" + ax] = dict(domain=[Y(py1), Y(py0)], anchor="x" + ax, range=yr, nticks=7,
                                     tickfont=dict(size=3.5, color="#666", family=FONT), ticks="",
                                     showgrid=False, zeroline=True, zerolinecolor="#aaa", zerolinewidth=0.6,
                                     showline=True, linecolor="#bbb", linewidth=0.6, tickformat="d")
    for nm, col, vals in series:
        if vals is None:
            continue
        data.append(go.Scatter(x=list(range(len(vals))), y=vals, mode="lines", name=nm,
                               line=dict(color=col, width=0.9), xaxis="x" + ax, yaxis="y" + ax,
                               showlegend=False, connectgaps=False, hoverinfo="skip"))
    # small logo mark
    shapes.append(dict(type="circle", xref="paper", yref="paper", x0=X(cx0 + 8), x1=X(cx0 + 16),
                       y0=Y(ry1 - 6), y1=Y(ry1 - 14), line=dict(color="#e0a0a0", width=0.6)))

# ---------------- footer ----------------
txt(2, 1454, "数据来源：WIND、钢联、盛达期货研究院", 4.4, "#222", anchor="left", bold=True)
hline(1459, color="#ddd")
txt(4, 1470, "【法律声明】", 5.5, "#d02020", anchor="left", bold=True)
for i, s in enumerate(legal_lines):
    txt(2, 1483 + i * 10.2, s, 4.2, "#888", anchor="left")

# ---------------- overlay title ----------------
shapes.append(dict(type="rect", xref="paper", yref="paper", x0=X(67), x1=X(432), y0=Y(812), y1=Y(749),
                   fillcolor="rgba(70,70,70,0.8)", line=dict(width=0), layer="above"))
ann.append(dict(x=X(250), y=Y(780), xref="paper", yref="paper", showarrow=False,
                text="<b>今日进口甲醇费用行情/甲醇进口最<br>新情况今天</b>",
                font=dict(size=15.5, color="white", family=FONT), align="center"))

fig = go.Figure(data=data)
fig.update_layout(width=W, height=H, margin=dict(l=0, r=0, t=0, b=0), paper_bgcolor="white",
                  plot_bgcolor="white", annotations=ann, shapes=shapes, showlegend=False,
                  font=dict(family=FONT), **layout_axes)
fig.write_html("out.html")
